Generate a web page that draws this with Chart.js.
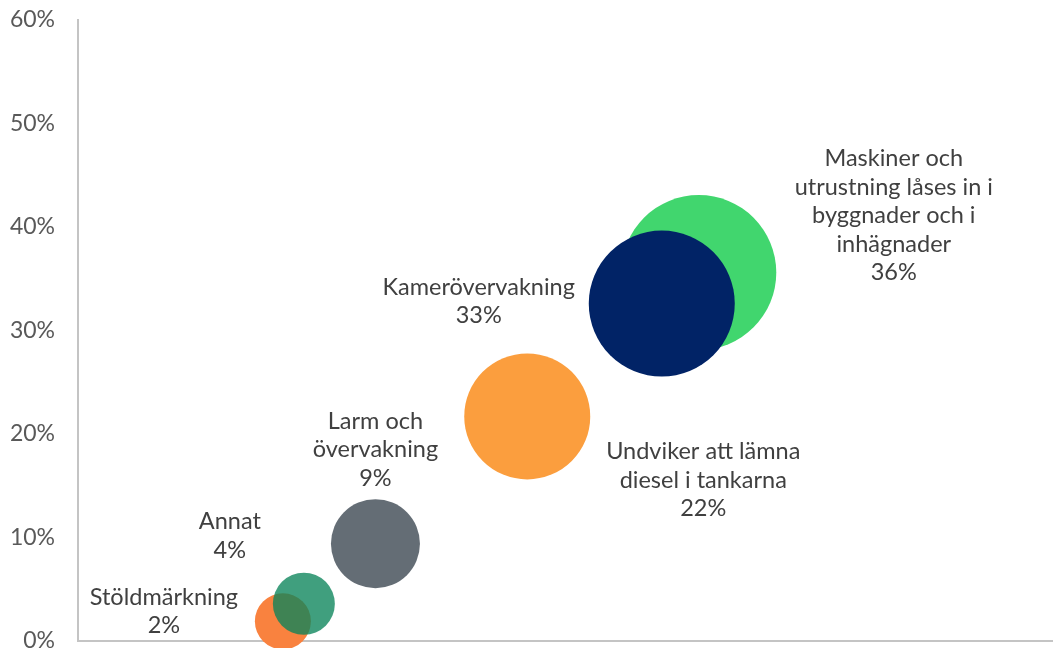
<!DOCTYPE html>
<html>
<head>
<meta charset="utf-8">
<script src="https://cdn.jsdelivr.net/npm/chart.js"></script>
<style>
  html, body { margin: 0; padding: 0; background: #fff; }
  canvas { display: block; }
</style>
</head>
<body>
<canvas id="myChart" width="1053" height="648"></canvas>
<script>
// draw order matters: later points are painted on top
const categories = [
  ['Stöldmärkning'],
  ['Annat'],
  ['Larm och', 'övervakning'],
  ['Undviker att lämna', 'diesel i tankarna'],
  ['Maskiner och', 'utrustning låses in i', 'byggnader och i', 'inhägnader'],
  ['Kamerövervakning'],
];
const shares = [1.9, 3.6, 9.4, 21.7, 35.6, 32.6]; // percent, used for x and y
const bubbleSize = [28, 31, 44.5, 63, 77.5, 73];
const yTicks = [0, 10, 20, 30, 40, 50, 60];

const colors = ['#F9823F', 'rgba(10,132,90,0.78)', '#646D75', '#FB9E3E', '#41D66E', '#012366'];
// label block centre relative to bubble centre
const labelOffsets = [[-119, -10], [-74, -68], [0, -94], [176, 64], [195, -57], [-183, -2]];

// bubbles may overflow the plot area, no extra padding for them
Chart.registry.getController('bubble').prototype.getMaxOverflow = function () { return 0; };

const labelPlugin = {
  id: 'bubbleLabels',
  afterDatasetsDraw(chart) {
    const ctx = chart.ctx;
    const meta = chart.getDatasetMeta(0);
    const lh = 28.5;
    ctx.save();
    ctx.font = '23.5px Lato';
    ctx.fillStyle = '#404040';
    ctx.textAlign = 'center';
    ctx.textBaseline = 'middle';
    meta.data.forEach((pt, i) => {
      const lines = categories[i].concat(Math.round(shares[i]) + '%');
      const cx = pt.x + labelOffsets[i][0];
      const cy = pt.y + labelOffsets[i][1];
      const top = cy - (lines.length - 1) * lh / 2;
      lines.forEach((t, j) => ctx.fillText(t, cx, top + j * lh));
    });
    ctx.restore();
  }
};

const data = {
  datasets: [{
    data: shares.map((v, i) => ({ x: v, y: v, r: bubbleSize[i] })),
    backgroundColor: colors,
    borderWidth: 0,
    hoverBorderWidth: 0,
    clip: false,
  }],
};

const config = {
  type: 'bubble',
  data: data,
  options: {
    responsive: false,
    animation: false,
    layout: { padding: { top: 20, right: 0, left: 0, bottom: 0 } },
    plugins: { legend: { display: false }, tooltip: { enabled: false } },
    scales: {
      x: {
        type: 'linear',
        min: -14.7,
        max: 64.3,
        ticks: { display: false },
        grid: { display: false, drawTicks: false },
        border: { display: true, color: '#C4C4C4', width: 2 },
        afterFit: (s) => { s.height = 7; s.paddingLeft = 0; s.paddingRight = 0; },
      },
      y: {
        type: 'linear',
        min: 0,
        max: 60,
        afterBuildTicks: (s) => { s.ticks = yTicks.map(v => ({ value: v })); },
        ticks: {
          padding: 23,
          color: '#595959',
          font: { family: 'Lato', size: 23 },
          callback: (v) => v + '%',
        },
        grid: { display: false, drawTicks: false },
        border: { display: true, color: '#C4C4C4', width: 2 },
        afterFit: (s) => { s.width = 78; s.paddingTop = 0; s.paddingBottom = 0; },
      },
    },
  },
  plugins: [labelPlugin],
};

const myChart = new Chart(document.getElementById('myChart'), config);
</script>
</body>
</html>
